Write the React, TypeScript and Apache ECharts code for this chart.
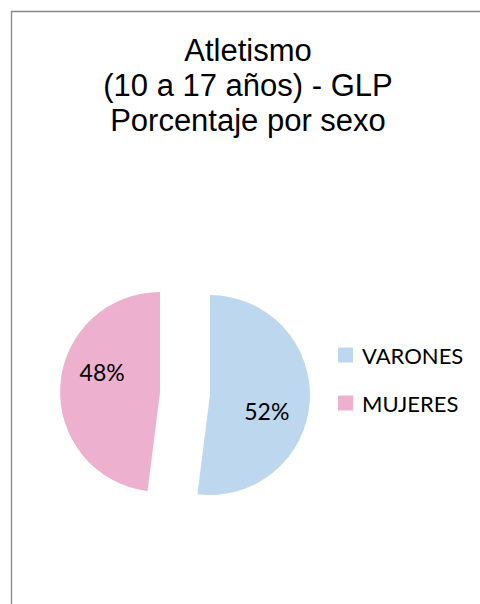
import React, { useEffect, useRef } from "react";
import * as echarts from "echarts";

const TITLE_LINES = ["Atletismo", "(10 a 17 años) - GLP", "Porcentaje por sexo"];
const CATEGORIES = ["VARONES", "MUJERES"];
const VALUES = [52, 48];
const COLORS = ["#BDD7EE", "#EDB1CF"];

// label nudges (style only), per slice
const LABEL_SHIFT: [number, number][] = [
  [4, 13],
  [-5, -17],
];

export default function App() {
  const ref = useRef<HTMLDivElement>(null);
  useEffect(() => {
    if (!ref.current) return;
    const chart = echarts.init(ref.current, undefined, { renderer: "svg" });
    chart.setOption({
      animation: false,
      backgroundColor: "#ffffff",
      title: {
        text: TITLE_LINES.join("\n"),
        left: 248,
        top: 33,
        padding: 0,
        textAlign: "center",
        textStyle: {
          fontFamily: "Liberation Sans, Arial, sans-serif",
          fontSize: 31,
          fontWeight: "normal",
          color: "#000000",
          lineHeight: 35,
        },
      },
      graphic: [
        {
          type: "rect",
          shape: { x: 11.5, y: 11.5, width: 520, height: 620 },
          style: { fill: "none", stroke: "#868686", lineWidth: 1.3 },
          silent: true,
        },
      ],
      legend: {
        orient: "vertical",
        left: 338,
        top: 343,
        padding: 0,
        itemWidth: 15,
        itemHeight: 15,
        itemGap: 24,
        icon: "rect",
        selectedMode: false,
        data: CATEGORIES,
        textStyle: {
          fontFamily: "Lato, sans-serif",
          fontSize: 22,
          color: "#000000",
          lineHeight: 24,
          padding: [0, 0, 0, 4],
        },
      },
      series: [
        {
          type: "pie",
          center: [185, 393.5],
          radius: 100,
          startAngle: 90,
          clockwise: true,
          selectedMode: "multiple",
          selectedOffset: 25,
          emphasis: { disabled: true },
          label: {
            show: true,
            position: "inside",
            formatter: "{d}%",
            fontFamily: "Lato, sans-serif",
            fontSize: 23,
            color: "#000000",
          },
          labelLine: { show: false },
          labelLayout: (p: any) => {
            const s = LABEL_SHIFT[p.dataIndex] || [0, 0];
            return { dx: s[0], dy: s[1] };
          },
          data: CATEGORIES.map((name, i) => ({
            name,
            value: VALUES[i],
            selected: true,
            itemStyle: { color: COLORS[i] },
          })),
        },
      ],
    });
    return () => chart.dispose();
  }, []);
  return (
    <div
      ref={ref}
      style={{ position: "absolute", left: 0, top: 0, width: 480, height: 604 }}
    />
  );
}
